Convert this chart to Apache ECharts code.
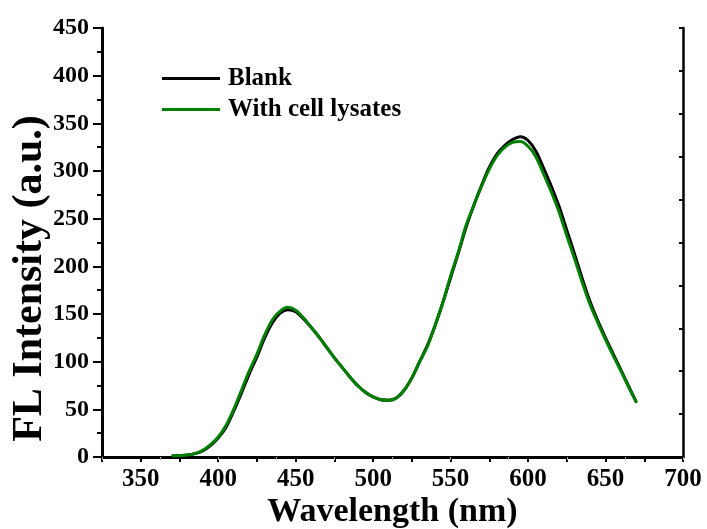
<!DOCTYPE html>
<html>
<head>
<meta charset="utf-8">
<script src="https://cdn.jsdelivr.net/npm/echarts@6/dist/echarts.min.js"></script>
<style>html,body{margin:0;padding:0;background:#fff;}#c{width:707px;height:529px;}</style>
</head>
<body>
<div id="c"></div>
<script>
const wavelengths = [370,375,380,385,390,395,400,405,410,415,420,425,430,435,440,445,450,455,460,465,470,475,480,485,490,495,500,505,510,515,520,525,530,535,540,545,550,555,560,565,570,575,580,585,590,595,600,605,610,615,620,625,630,635,640,645,650,655,660,665,670];
const blank = [1,1.5,2,3.5,6.5,12,20,31,48,67,87,105,125,141,151,154.5,152.5,145,136,126,115,104,94,84,75,68,63,60,59.5,62,70,83,100,117,138,162,188,214,241,264,285,304,318,327,333,336,332,321,303,284,263,238,213,187,163,143,125,108,91,74,57];
const lysates = [1,1.5,2,3.5,7,13,21,33,50,70,90,108,128,144,153,157,154,146,136,126,115,104,94,84,75,68,63,60,59.5,62,70,83,100,116,138,162,190,215,243,264,284,302,316,325,330,331,326,315,297,278,257,232,208,183,160,141,123,106,90,73,57];
const seriesNames = ['Blank','With cell lysates'];
const xTicks = {min:325, max:700, step:25, labelStep:50};
const yTicks = {min:0, max:450, step:50};

const font = "'Liberation Serif','Times New Roman',serif";
const chart = echarts.init(document.getElementById('c'), null, {renderer:'canvas'});
chart.setOption({
  animation:false,
  backgroundColor:'#fff',
  grid:{left:102, right:24, top:28, bottom:72, containLabel:false, outerBoundsMode:'none'},
  legend:{
    orient:'vertical', left:157, top:61, itemWidth:58, itemHeight:3, itemGap:6,
    data:[{name:seriesNames[0], icon:'rect'},{name:seriesNames[1], icon:'rect'}],
    textStyle:{fontFamily:font, fontWeight:'bold', fontSize:25, color:'#000', padding:[0,0,0,3]}
  },
  xAxis:[{
    type:'value', min:xTicks.min, max:xTicks.max, interval:xTicks.step,
    name:'Wavelength (nm)', nameLocation:'middle', nameGap:38, nameMoveOverlap:false,
    nameTextStyle:{fontFamily:font, fontWeight:'bold', fontSize:34, color:'#000'},
    axisLine:{show:true, lineStyle:{color:'#000', width:3}},
    axisTick:{show:true, inside:false, length:5, lineStyle:{color:'#000', width:2}},
    axisLabel:{margin:10, fontFamily:font, fontWeight:'bold', fontSize:25, color:'#000',
      formatter:function(v){return (v % xTicks.labelStep === 0) ? String(v) : '';}},
    splitLine:{show:false}
  },{
    type:'value', position:'top', min:0, max:10, interval:1,
    axisLine:{show:true, lineStyle:{color:'#000', width:2.5}},
    axisTick:{show:true, inside:true, length:3, lineStyle:{color:'#aaa', width:1}},
    axisLabel:{show:false}, splitLine:{show:false}
  }],
  yAxis:[{
    type:'value', min:yTicks.min, max:yTicks.max, interval:yTicks.step,
    name:'FL Intensity (a.u.)', nameLocation:'middle', nameGap:51, nameMoveOverlap:false,
    nameTextStyle:{fontFamily:font, fontWeight:'bold', fontSize:42, color:'#000', padding:[0,72,0,0]},
    axisLine:{show:true, lineStyle:{color:'#000', width:3}},
    axisTick:{show:true, inside:false, length:9, lineStyle:{color:'#000', width:2}},
    minorTick:{show:true, splitNumber:2, length:5, lineStyle:{color:'#000', width:2}},
    axisLabel:{margin:13, fontFamily:font, fontWeight:'bold', fontSize:24, color:'#000'},
    splitLine:{show:false}
  },{
    type:'value', position:'right', min:0, max:10, interval:1,
    axisLine:{show:true, lineStyle:{color:'#000', width:2.5}},
    axisTick:{show:true, inside:true, length:4, lineStyle:{color:'#000', width:2}},
    axisLabel:{show:false}, splitLine:{show:false}
  }],
  series:[{
    name:seriesNames[0], type:'line', xAxisIndex:0, yAxisIndex:0,
    data:wavelengths.map((w,i)=>[w, blank[i]]),
    symbol:'none', smooth:0.3, lineStyle:{color:'#000', width:3}, itemStyle:{color:'#000'}
  },{
    name:seriesNames[1], type:'line', xAxisIndex:0, yAxisIndex:0,
    data:wavelengths.map((w,i)=>[w, lysates[i]]),
    symbol:'none', smooth:0.3, lineStyle:{color:'#008000', width:3}, itemStyle:{color:'#008000'}
  }]
});
</script>
</body>
</html>
